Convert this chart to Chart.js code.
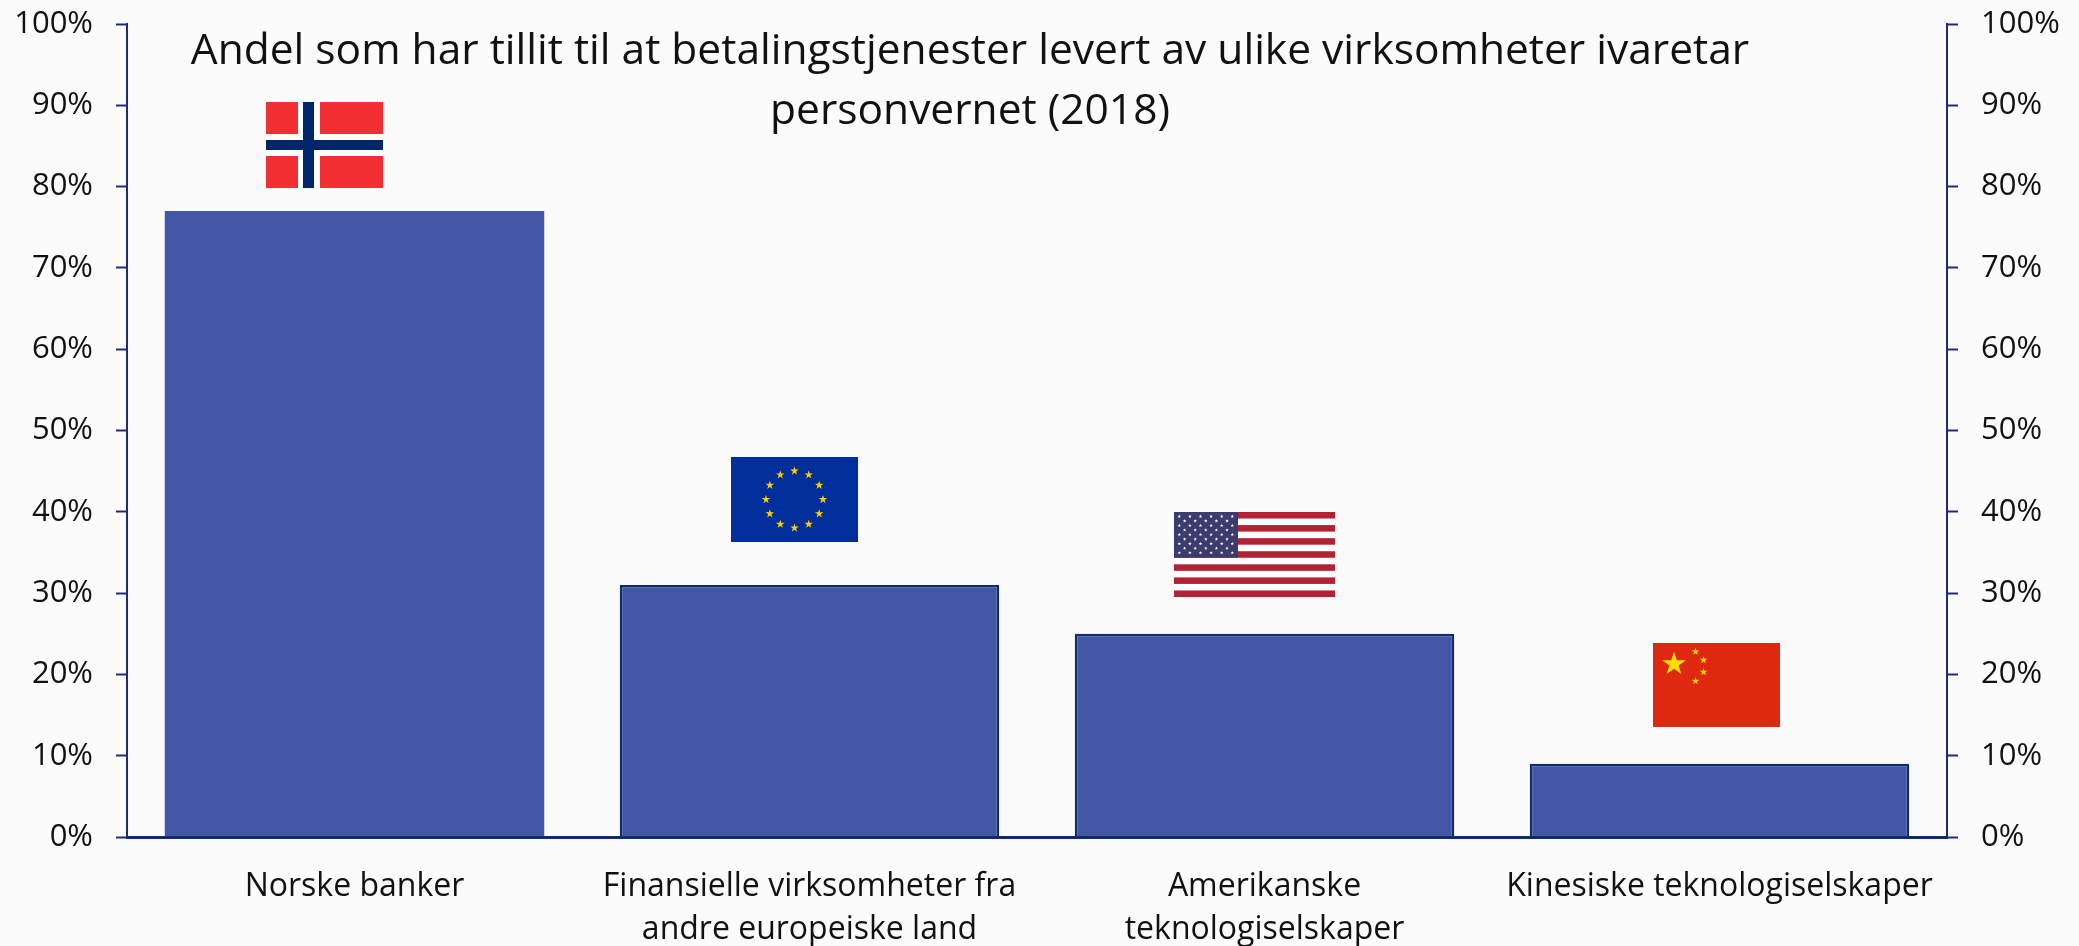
<!DOCTYPE html>
<html lang="no">

<head>
    <meta charset="UTF-8">
    <title>Tillit til betalingstjenester</title>
    <script src="https://cdn.jsdelivr.net/npm/chart.js"></script>
    <style>
        html, body { margin: 0; padding: 0; background: #fbfbfb; }
        #wrap { position: relative; width: 2079px; height: 946px; }
    </style>
</head>

<body>
    <div id="wrap"><canvas id="grafico"></canvas></div>

    <script>
        const tittel = [
            'Andel som har tillit til at betalingstjenester levert av ulike virksomheter ivaretar',
            'personvernet (2018)'
        ];
        const kategorier = [
            'Norske banker',
            ['Finansielle virksomheter fra', 'andre europeiske land'],
            ['Amerikanske', 'teknologiselskaper'],
            'Kinesiske teknologiselskaper'
        ];
        const andeler = [77, 31, 25, 9];
        const yTicks = [0, 10, 20, 30, 40, 50, 60, 70, 80, 90, 100];

        const fontFamily = '"Open Sans"';
        const tekstFarge = '#111111';
        const aksefarge = '#1f2a78';
        const bunnfarge = '#0f2a6e';

        function stjerne(ctx, cx, cy, r, farge) {
            ctx.fillStyle = farge;
            ctx.beginPath();
            for (let i = 0; i < 10; i++) {
                const rad = i % 2 === 0 ? r : r * 0.382;
                const vinkel = -Math.PI / 2 + i * Math.PI / 5;
                const x = cx + rad * Math.cos(vinkel);
                const y = cy + rad * Math.sin(vinkel);
                if (i === 0) ctx.moveTo(x, y); else ctx.lineTo(x, y);
            }
            ctx.closePath();
            ctx.fill();
        }

        function norge(ctx) {
            ctx.fillStyle = '#f42f34';
            ctx.fillRect(266, 102, 117, 86);
            ctx.fillStyle = '#ffffff';
            ctx.fillRect(298, 102, 22, 86);
            ctx.fillRect(266, 134, 117, 22);
            ctx.fillStyle = '#00256b';
            ctx.fillRect(303, 102, 11, 86);
            ctx.fillRect(266, 140, 117, 10);
        }

        function eu(ctx) {
            ctx.fillStyle = '#002f9b';
            ctx.fillRect(731, 457, 127, 85);
            for (let i = 0; i < 12; i++) {
                const v = i * Math.PI / 6;
                stjerne(ctx, 794.5 + 28.5 * Math.cos(v), 499.5 + 28.5 * Math.sin(v), 4.5, '#ffcc00');
            }
        }

        function usa(ctx) {
            const x = 1174, y = 512, b = 161, h = 85;
            ctx.fillStyle = '#ffffff';
            ctx.fillRect(x, y, b, h);
            ctx.fillStyle = '#b22234';
            for (let i = 0; i < 13; i += 2) {
                ctx.fillRect(x, y + i * h / 13, b, h / 13);
            }
            ctx.fillStyle = '#3c3b6e';
            ctx.fillRect(x, y, 64, h * 7 / 13);
            for (let rad = 0; rad < 9; rad++) {
                const antall = rad % 2 === 0 ? 6 : 5;
                for (let k = 0; k < antall; k++) {
                    const sx = x + (rad % 2 === 0 ? 5.3 : 10.6) + k * 10.6;
                    stjerne(ctx, sx, y + 4.4 + rad * 4.55, 1.9, '#ffffff');
                }
            }
        }

        function kina(ctx) {
            ctx.fillStyle = '#de2910';
            ctx.fillRect(1653, 643, 127, 84);
            stjerne(ctx, 1674, 664, 12.5, '#ffde00');
            stjerne(ctx, 1695.5, 651.5, 4, '#ffde00');
            stjerne(ctx, 1703.5, 660, 4, '#ffde00');
            stjerne(ctx, 1703.5, 672, 4, '#ffde00');
            stjerne(ctx, 1695.5, 681, 4, '#ffde00');
        }

        const pynt = {
            id: 'pynt',
            afterDraw(chart) {
                const ctx = chart.ctx;
                ctx.save();
                norge(ctx);
                eu(ctx);
                usa(ctx);
                kina(ctx);
                ctx.fillStyle = tekstFarge;
                ctx.font = '42.5px ' + fontFamily;
                ctx.textAlign = 'center';
                ctx.textBaseline = 'middle';
                ctx.fillText(tittel[0], 970, 52);
                ctx.fillText(tittel[1], 970, 112);
                ctx.restore();
            }
        };

        function yAkse(posisjon, bredde) {
            return {
                position: posisjon,
                min: 0,
                max: 100,
                afterFit(akse) {
                    akse.width = bredde;
                    akse.paddingTop = 0;
                    akse.paddingBottom = 0;
                },
                afterBuildTicks(akse) { akse.ticks = yTicks.map(v => ({ value: v })); },
                border: { display: true, color: aksefarge, width: 2 },
                grid: { drawOnChartArea: false, drawTicks: true, tickLength: 11, tickWidth: 2, tickColor: aksefarge },
                ticks: {
                    padding: 23,
                    color: tekstFarge,
                    font: { family: fontFamily, size: 31 },
                    callback: v => v + '%'
                }
            };
        }

        new Chart(document.getElementById('grafico'), {
            type: 'bar',
            data: {
                labels: kategorier,
                datasets: [{
                    data: andeler,
                    backgroundColor: '#4156a5',
                    borderColor: bunnfarge,
                    borderWidth: [0, 2.5, 2.5, 2.5],
                    barPercentage: 0.834,
                    categoryPercentage: 1,
                    yAxisID: 'y'
                }]
            },
            options: {
                responsive: true,
                maintainAspectRatio: false,
                animation: false,
                layout: { padding: { top: 24, left: 0, right: 0, bottom: 0 } },
                plugins: {
                    legend: { display: false },
                    title: { display: false },
                    tooltip: { enabled: false }
                },
                scales: {
                    x: {
                        afterFit(akse) { akse.height = 109; },
                        border: { display: true, color: bunnfarge, width: 3, z: 2 },
                        grid: { display: false },
                        ticks: {
                            maxRotation: 0,
                            autoSkip: false,
                            padding: 21,
                            color: tekstFarge,
                            font: { family: fontFamily, size: 32, lineHeight: 1.33 }
                        }
                    },
                    y: yAkse('left', 127),
                    y2: yAkse('right', 132)
                }
            },
            plugins: [pynt, {
                id: 'bakgrunn',
                beforeDraw(chart) {
                    chart.ctx.fillStyle = '#fbfbfb';
                    chart.ctx.fillRect(0, 0, chart.width, chart.height);
                }
            }]
        });
    </script>
</body>

</html>
